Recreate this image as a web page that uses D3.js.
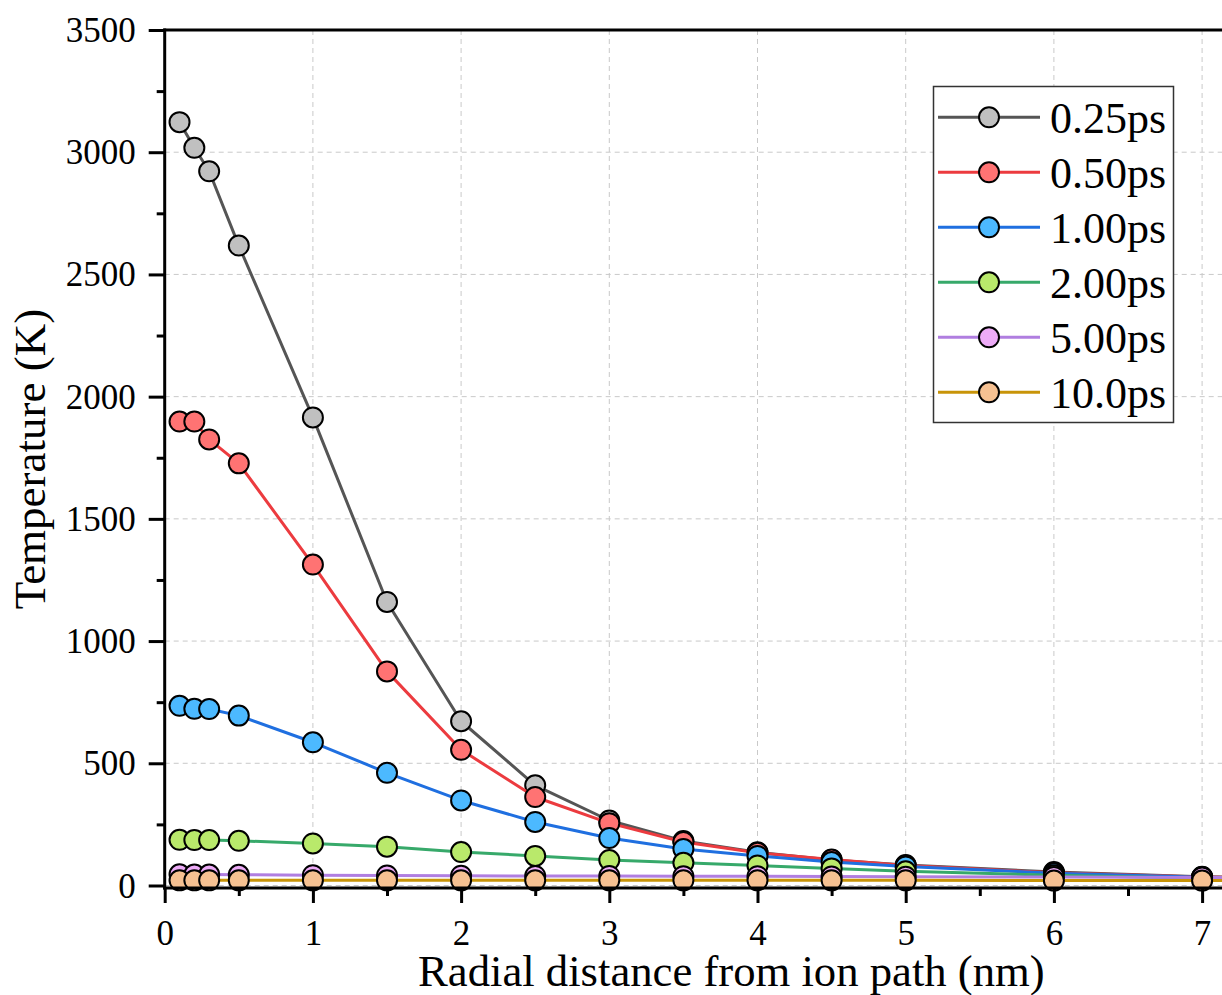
<!DOCTYPE html>
<html>
<head>
<meta charset="utf-8">
<script src="https://cdn.jsdelivr.net/npm/d3@7/dist/d3.min.js"></script>
<style>
  html, body { margin: 0; padding: 0; background: #fff; }
  svg { display: block; font-family: "Liberation Serif", "Times New Roman", serif; }
</style>
</head>
<body>
<svg id="chart" width="1222" height="995"></svg>
<script>
// Radial distance from the ion path (nm)
const radius = [0.1, 0.2, 0.3, 0.5, 1, 1.5, 2, 2.5, 3, 3.5, 4, 4.5, 5, 6, 7, 8];

// Lattice temperature (K) at each time after impact
const t025 = [3123, 3018, 2922, 2618, 1915, 1160, 672, 410, 266, 182, 136, 104, 84, 55, 36, 28];
const t050 = [1898, 1898, 1825, 1727, 1313, 876, 555, 362, 255, 178, 134, 106, 82, 52, 35, 27];
const t100 = [735, 723, 722, 695, 586, 461, 348, 260, 194, 149, 121, 96, 78, 50, 34, 27];
const t200 = [187, 186, 186, 183, 172, 159, 137, 121, 104, 93, 82, 70, 58, 42, 30, 25];
const t500 = [46, 45, 45, 44, 42, 41, 40, 39, 39, 38, 38, 37, 36, 35, 33, 32];
const t1000 = [21, 21, 21, 21, 21, 21, 21, 21, 21, 21, 21, 21, 21, 20, 20, 20];

const seriesNames = ["0.25ps", "0.50ps", "1.00ps", "2.00ps", "5.00ps", "10.0ps"];
const seriesValues = [t025, t050, t100, t200, t500, t1000];
const lineColors = ["#555555", "#ec3b3f", "#1f6fe0", "#37a96a", "#b07ee0", "#c89408"];
const fillColors = ["#c0c0c0", "#ff7373", "#4cb9ff", "#b9e96b", "#edabf7", "#f6c192"];

const xTicks = [0, 1, 2, 3, 4, 5, 6, 7];
const yTicks = [0, 500, 1000, 1500, 2000, 2500, 3000, 3500];

const svg = d3.select("#chart");

const x0 = 164.7, xUnit = 148.2;
const yTop = 30, yBottom = 885.5;

const x = d3.scaleLinear().domain([0, 8]).range([x0, x0 + 8 * xUnit]);
const y = d3.scaleLinear().domain([0, 3500]).range([yBottom, yTop]);

// dashed grid
const grid = svg.append("g").attr("stroke", "#c9c9c9").attr("stroke-width", 1)
  .attr("stroke-dasharray", "5,4").attr("fill", "none");
grid.selectAll("line.gx").data(xTicks.filter(d => d > 0)).join("line")
  .attr("x1", d => x(d)).attr("x2", d => x(d)).attr("y1", yTop).attr("y2", yBottom);
grid.selectAll("line.gy").data(yTicks.filter(d => d < 3500)).join("line")
  .attr("x1", x0).attr("x2", 1222).attr("y1", d => y(d)).attr("y2", d => y(d));

// series: line first, then its markers
const line = d3.line().x((d, i) => x(radius[i])).y(d => y(d));
seriesValues.forEach((vals, k) => {
  const g = svg.append("g");
  g.append("path").datum(vals).attr("d", line)
    .attr("fill", "none").attr("stroke", lineColors[k]).attr("stroke-width", 3)
    .attr("stroke-linejoin", "round");
  g.selectAll("circle").data(vals).join("circle")
    .attr("cx", (d, i) => x(radius[i])).attr("cy", d => y(d)).attr("r", 10)
    .attr("fill", fillColors[k]).attr("stroke", "#000").attr("stroke-width", 2);
});

// axes
const fontTick = 35;
const xAxis = d3.axisBottom(x).tickValues(xTicks).tickSize(15).tickPadding(17)
  .tickFormat(d3.format("d"));
const xMinor = d3.axisBottom(x).tickValues([0.5, 1.5, 2.5, 3.5, 4.5, 5.5, 6.5, 7.5])
  .tickSize(8).tickFormat("");
const yAxis = d3.axisLeft(y).tickValues(yTicks).tickSize(16).tickPadding(13)
  .tickFormat(d3.format("d"));
const yMinor = d3.axisLeft(y).tickValues([250, 750, 1250, 1750, 2250, 2750, 3250])
  .tickSize(8).tickFormat("");

function styleAxis(g, dy) {
  g.select(".domain").remove();
  g.selectAll(".tick line").attr("stroke", "#000").attr("stroke-width", 3);
  g.selectAll(".tick text").attr("fill", "#000").attr("dy", dy)
    .style("font-family", "'Liberation Serif', 'Times New Roman', serif")
    .style("font-size", fontTick + "px");
}

svg.append("g").attr("transform", `translate(0,${yBottom + 2.5})`).call(xAxis).call(styleAxis, "0.71em");
svg.append("g").attr("transform", `translate(0,${yBottom + 2.5})`).call(xMinor).call(styleAxis, "0.71em");
svg.append("g").attr("transform", `translate(${x0},0)`).call(yAxis).call(styleAxis, "0.33em");
svg.append("g").attr("transform", `translate(${x0},0)`).call(yMinor).call(styleAxis, "0.33em");

// frame lines
svg.append("line").attr("x1", x0).attr("x2", x0).attr("y1", yTop - 1.5).attr("y2", yBottom + 4)
  .attr("stroke", "#000").attr("stroke-width", 3);
svg.append("line").attr("x1", x0 - 1.5).attr("x2", 1222).attr("y1", yBottom + 2.5).attr("y2", yBottom + 2.5)
  .attr("stroke", "#000").attr("stroke-width", 3);
svg.append("line").attr("x1", x0 - 1.5).attr("x2", 1222).attr("y1", yTop).attr("y2", yTop)
  .attr("stroke", "#000").attr("stroke-width", 3);

// axis titles
svg.append("text").attr("x", 418).attr("y", 986)
  .style("font-size", "44.7px").attr("fill", "#000")
  .text("Radial distance from ion path (nm)");
svg.append("text").attr("transform", "translate(45,459) rotate(-90)")
  .attr("text-anchor", "middle").style("font-size", "45px").attr("fill", "#000")
  .text("Temperature (K)");

// legend
const lg = svg.append("g");
lg.append("rect").attr("x", 933.5).attr("y", 86.5).attr("width", 240).attr("height", 336)
  .attr("fill", "#fff").attr("stroke", "#333").attr("stroke-width", 1.5);
seriesNames.forEach((name, k) => {
  const cy = 117.3 + k * 55;
  lg.append("line").attr("x1", 938).attr("x2", 1040).attr("y1", cy).attr("y2", cy)
    .attr("stroke", lineColors[k]).attr("stroke-width", 3);
  lg.append("circle").attr("cx", 989).attr("cy", cy).attr("r", 10)
    .attr("fill", fillColors[k]).attr("stroke", "#000").attr("stroke-width", 2);
  lg.append("text").attr("x", 1050).attr("y", cy + 16)
    .style("font-size", "44px").attr("fill", "#000").text(name);
});
</script>
</body>
</html>
